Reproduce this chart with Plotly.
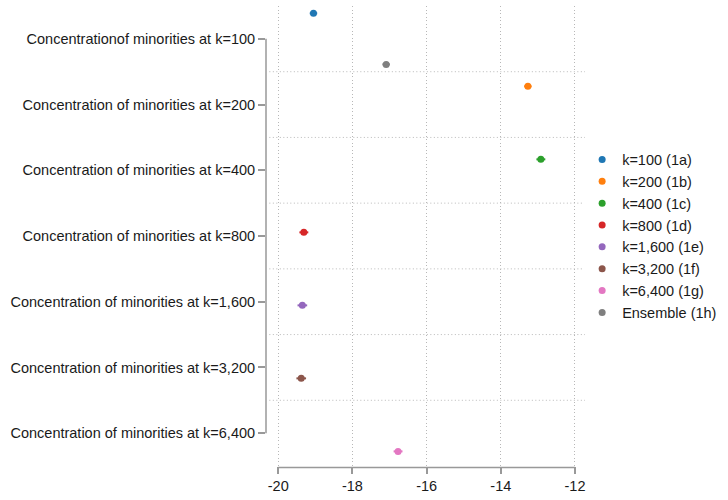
import plotly.graph_objects as go

rows = [
    "Concentrationof minorities at k=100",
    "Concentration of minorities at k=200",
    "Concentration of minorities at k=400",
    "Concentration of minorities at k=800",
    "Concentration of minorities at k=1,600",
    "Concentration of minorities at k=3,200",
    "Concentration of minorities at k=6,400",
]
models = ["k=100 (1a)", "k=200 (1b)", "k=400 (1c)", "k=800 (1d)",
          "k=1,600 (1e)", "k=3,200 (1f)", "k=6,400 (1g)", "Ensemble (1h)"]
model_row = [0, 1, 2, 3, 4, 5, 6, 0]
coef = [-19.05, -13.27, -12.92, -19.31, -19.35, -19.38, -16.77, -17.09]
ci_half = [0.10, 0.10, 0.12, 0.12, 0.13, 0.13, 0.12, 0.10]
colors = ["#1f77b4", "#ff7f0e", "#2ca02c", "#d62728",
          "#9467bd", "#8c564b", "#e377c2", "#7f7f7f"]
xticks = [-20, -18, -16, -14, -12]

FONT = "Liberation Sans, Arial, sans-serif"
n = len(models)
step = 0.111

fig = go.Figure()
for j in range(n):
    off = (j - (n - 1) / 2) * step
    fig.add_trace(go.Scatter(
        x=[coef[j]], y=[model_row[j] + off], mode="markers",
        name=models[j], legendgroup=models[j],
        marker=dict(color=colors[j], size=7),
        error_x=dict(type="data", array=[ci_half[j]], color=colors[j],
                     thickness=2, width=0),
    ))

grid_col = "#b8b8b8"
dot = "1px,2.5px"
shapes = []
for k in range(len(rows) - 1):
    shapes.append(dict(type="line", xref="x", yref="y", x0=-20.24, x1=-11.73,
                       y0=k + 0.5, y1=k + 0.5,
                       line=dict(color=grid_col, width=1, dash=dot)))
# partial axis lines (Stata style)
shapes.append(dict(type="line", xref="paper", yref="y", x0=0, x1=0,
                   y0=0, y1=len(rows) - 1, line=dict(color="#999999", width=1.5)))
shapes.append(dict(type="line", xref="x", yref="paper", x0=xticks[0], x1=xticks[-1],
                   y0=-0.003, y1=-0.003, line=dict(color="#999999", width=1.5)))

fig.update_layout(
    width=728, height=500,
    margin=dict(l=266, r=130, t=6, b=34),
    paper_bgcolor="white", plot_bgcolor="white",
    font=dict(family=FONT, size=14.5, color="#1a1a1a"),
    showlegend=True,
    legend=dict(x=0.991, xanchor="left", y=0.5, yanchor="middle",
                font=dict(size=14.5), tracegroupgap=3, traceorder="normal"),
    shapes=shapes,
    xaxis=dict(range=[-20.33, -11.73], tickvals=xticks,
               ticktext=[str(v) for v in xticks],
               showgrid=True, gridcolor=grid_col, griddash=dot, gridwidth=1,
               zeroline=False, showline=False, ticks="outside", ticklen=7,
               tickcolor="#999999", tickwidth=1.5),
    yaxis=dict(range=[6.5, -0.5], tickvals=list(range(len(rows))), ticktext=rows,
               showgrid=False, zeroline=False, showline=False,
               ticks="outside", ticklen=7, tickcolor="#999999", tickwidth=1.5),
)

fig.write_html("out.html")
